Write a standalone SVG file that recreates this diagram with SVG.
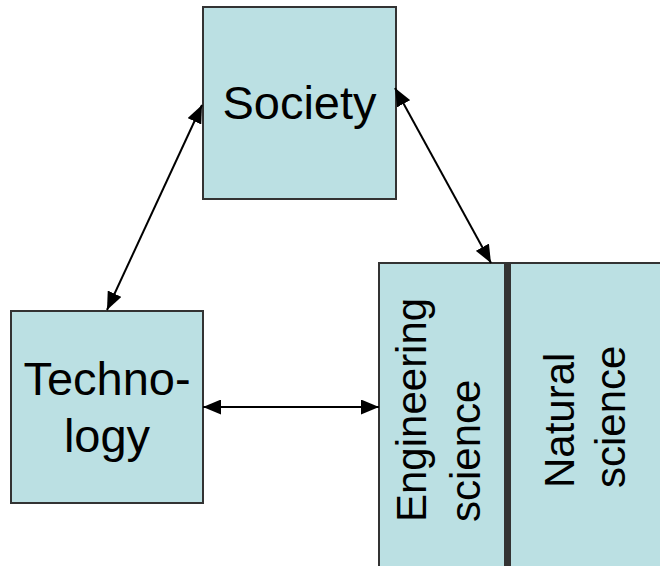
<svg xmlns="http://www.w3.org/2000/svg" width="660" height="566" viewBox="0 0 660 566">
  <style>
    .box { fill: #BBE0E3; stroke: #333333; stroke-width: 2; }
    .label { font-family: "Liberation Sans", Arial, sans-serif; fill: #000000; }
    .link { stroke: #000000; stroke-width: 2; fill: none; marker-start: url(#head); marker-end: url(#head); }
  </style>
  <defs>
    <marker id="head" markerUnits="userSpaceOnUse" markerWidth="19" markerHeight="15" refX="18" refY="7.5" orient="auto-start-reverse">
      <path d="M0,0 L18,7.5 L0,15 Z" fill="#000000"/>
    </marker>
  </defs>

  <rect width="660" height="566" fill="#FFFFFF"/>

  <g id="society">
    <rect class="box" x="203" y="7" width="193" height="192"/>
    <text class="label" x="299.5" y="119" font-size="47" text-anchor="middle">Society</text>
  </g>

  <g id="technology">
    <rect class="box" x="11" y="311" width="192" height="192"/>
    <text class="label" x="107" y="395" font-size="47" text-anchor="middle">Techno-</text>
    <text class="label" x="107" y="452" font-size="47" text-anchor="middle">logy</text>
  </g>

  <g id="science">
    <rect class="box" x="379" y="263" width="300" height="320"/>
    <rect x="504" y="263" width="7" height="320" fill="#333333"/>
    <g id="engineering-science" transform="translate(426,522) rotate(-90)">
      <text class="label" x="0" y="0" font-size="42">Engineering</text>
      <text class="label" x="0" y="54" font-size="42">science</text>
    </g>
    <g id="natural-science" transform="translate(574,488) rotate(-90)">
      <text class="label" x="0" y="0" font-size="42">Natural</text>
      <text class="label" x="0" y="51" font-size="42">science</text>
    </g>
  </g>

  <g id="connectors">
    <line class="link" x1="202" y1="105" x2="107" y2="310"/>
    <line class="link" x1="395" y1="88" x2="491" y2="263"/>
    <line class="link" x1="203" y1="407" x2="379" y2="407"/>
  </g>
</svg>
